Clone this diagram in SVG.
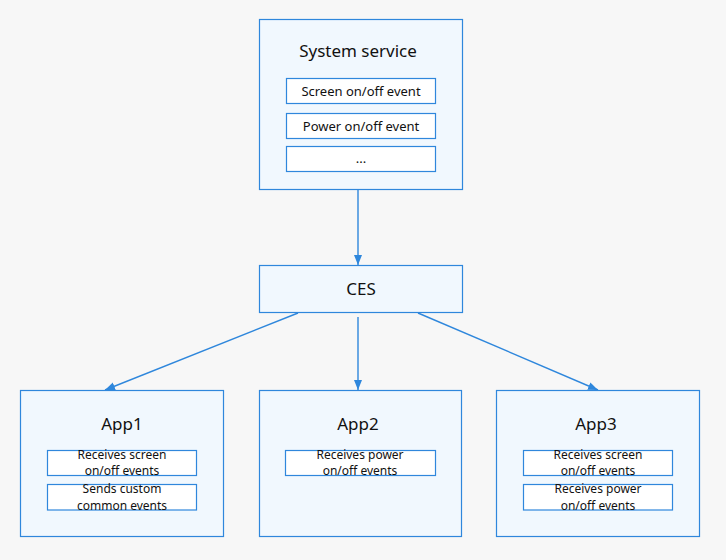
<svg xmlns="http://www.w3.org/2000/svg" width="726" height="560" viewBox="0 0 726 560">
<defs>
<marker id="arr" viewBox="0 0 10 10" refX="10" refY="5" markerWidth="10" markerHeight="10" markerUnits="userSpaceOnUse" orient="auto">
<path d="M0,1 L10,5 L0,9 Z" fill="#2f87dc"/>
</marker>
<style>
.node{fill:#f1f8fe;stroke:#2f87dc;stroke-width:1.2}
.sub{fill:#ffffff;stroke:#2f87dc;stroke-width:1.2}
.title{font-family:"Noto Sans","Open Sans",sans-serif;font-size:17px;fill:#111;text-anchor:middle}
.t{font-family:"Noto Sans","Open Sans",sans-serif;font-size:13px;fill:#111;text-anchor:middle}
.t2{font-family:"Noto Sans","Open Sans",sans-serif;font-size:12px;fill:#111;text-anchor:middle}
.conn{stroke:#2f87dc;stroke-width:1.4;fill:none;marker-end:url(#arr)}
</style>
</defs>
<rect width="726" height="560" fill="#f7f7f7"/>
<g id="connectors">
<line class="conn" x1="358" y1="190" x2="358" y2="265"/>
<line class="conn" x1="358" y1="317" x2="358" y2="390"/>
<line class="conn" x1="298" y1="313" x2="105" y2="390"/>
<line class="conn" x1="418" y1="313" x2="598" y2="390"/>
</g>
<g id="system-service">
<rect class="node" x="259.5" y="19.5" width="203" height="170"/>
<text class="title" x="358" y="57">System service</text>
<rect class="sub" x="286.5" y="78.5" width="149" height="25"/>
<text class="t" x="361" y="96">Screen on/off event</text>
<rect class="sub" x="286.5" y="113.5" width="149" height="25"/>
<text class="t" x="361" y="130.5">Power on/off event</text>
<rect class="sub" x="286.5" y="146.5" width="149" height="25"/>
<text class="t" x="361" y="163">...</text>
</g>
<g id="ces">
<rect class="node" x="259.5" y="265.5" width="203" height="47"/>
<text class="title" x="361" y="294.5">CES</text>
</g>
<g id="app1">
<rect class="node" x="20.5" y="390.5" width="203" height="146"/>
<text class="title" x="122" y="429.5">App1</text>
<rect class="sub" x="47.5" y="450.5" width="149" height="25"/>
<text class="t2" x="122" y="458.5">Receives screen</text>
<text class="t2" x="122" y="475">on/off events</text>
<rect class="sub" x="47.5" y="484.5" width="149" height="25.5"/>
<text class="t2" x="122" y="493">Sends custom</text>
<text class="t2" x="122" y="509.5">common events</text>
</g>
<g id="app2">
<rect class="node" x="259.5" y="390.5" width="202" height="146"/>
<text class="title" x="358" y="429.5">App2</text>
<rect class="sub" x="285.5" y="450.5" width="150" height="25"/>
<text class="t2" x="360" y="458.5">Receives power</text>
<text class="t2" x="360" y="475">on/off events</text>
</g>
<g id="app3">
<rect class="node" x="496.5" y="390.5" width="203" height="146"/>
<text class="title" x="596" y="429.5">App3</text>
<rect class="sub" x="523.5" y="450.5" width="149" height="25"/>
<text class="t2" x="598" y="458.5">Receives screen</text>
<text class="t2" x="598" y="475">on/off events</text>
<rect class="sub" x="523.5" y="484.5" width="149" height="25.5"/>
<text class="t2" x="598" y="493">Receives power</text>
<text class="t2" x="598" y="509.5">on/off events</text>
</g>
</svg>
